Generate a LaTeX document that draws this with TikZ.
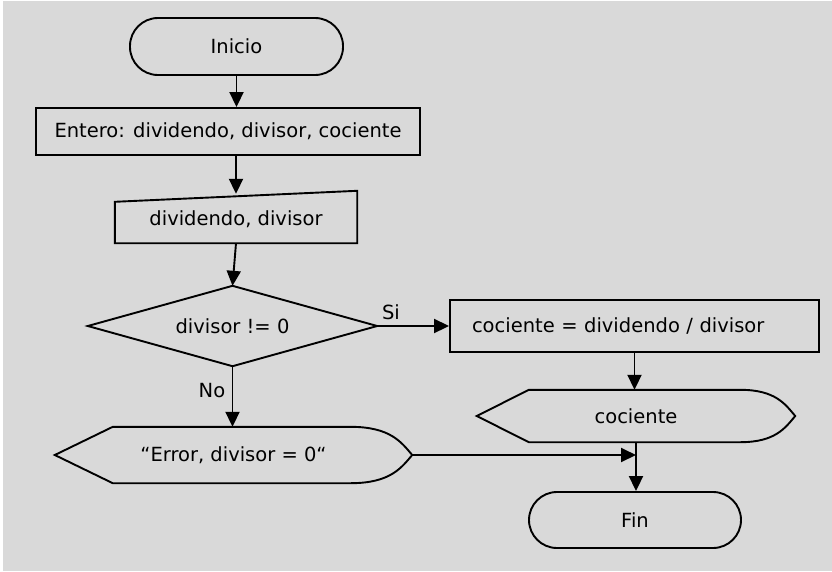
\documentclass[tikz,border=0pt]{standalone}
\usepackage{fontspec}
\setmainfont{DejaVu Sans}
\usetikzlibrary{arrows.meta,calc}
\definecolor{bggray}{HTML}{D9D9D9}
\begin{document}
\begin{tikzpicture}[x=1pt,y=-1pt,
  every node/.style={font=\fontsize{19.5}{23}\selectfont, inner sep=0pt},
  flow/.style={draw=black, line width=1.9pt},
  arrow/.style={flow, -{Triangle[length=15pt,width=14pt]}},
  term/.style={flow, rounded corners=28pt},
  proc/.style={flow}]

% page background
\fill[white] (0,0) rectangle (832,571);
\fill[bggray] (3,1) rectangle (832,571);
\useasboundingbox (0,0) rectangle (832,571);

% blocks
\node[term, minimum width=213pt, minimum height=57pt] (ini) at (236.5,46.5) {Inicio};
\node[proc, minimum width=384pt, minimum height=47pt] (decl) at (228,131.5) {Entero: dividendo, divisor, cociente};
\node[minimum width=242pt, minimum height=47pt] (inp) at (236,219.5) {dividendo, divisor};
\node[minimum width=289pt, minimum height=80pt] (dec) at (232.5,326) {divisor != 0};
\node[proc, minimum height=52pt, text width=325pt, inner xsep=22pt, align=left] (div) at (634.5,326) {cociente = dividendo / divisor};
\node[minimum width=318pt, minimum height=52pt] (out) at (636,416) {cociente};
\node[minimum width=357pt, minimum height=56pt] (err) at (233.5,455) {“Error, divisor = 0“};
\node[term, minimum width=212pt, minimum height=56pt] (fin) at (635,520) {Fin};

% manual input outline (slanted top)
\draw[flow] (inp.south west) -- (inp.south east)
  -- ($(inp.north east)+(0,-5)$) -- ($(inp.north west)+(0,6)$) -- cycle;

% decision outline
\draw[flow] (dec.west) -- (dec.north) -- (dec.east) -- (dec.south) -- cycle;

% display outlines
\draw[flow] (out.west) -- ($(out.north west)+(52,0)$) -- ($(out.north east)+(-55,0)$)
  .. controls ($(out.north east)+(-20,0)$) and ($(out.east)+(-10,-12)$) .. (out.east)
  .. controls ($(out.east)+(-10,12)$) and ($(out.south east)+(-20,0)$) .. ($(out.south east)+(-55,0)$)
  -- ($(out.south west)+(52,0)$) -- cycle;
\draw[flow] (err.west) -- ($(err.north west)+(58,0)$) -- ($(err.north east)+(-62,0)$)
  .. controls ($(err.north east)+(-22,0)$) and ($(err.east)+(-11,-13)$) .. (err.east)
  .. controls ($(err.east)+(-11,13)$) and ($(err.south east)+(-22,0)$) .. ($(err.south east)+(-62,0)$)
  -- ($(err.south west)+(58,0)$) -- cycle;

% branch labels
\node (si) at (391,312) {Si};
\node (no) at (212,391) {No};

% connectors
\coordinate (join) at (out.south |- err.east);
\draw[arrow] (ini.south) -- (ini.south |- decl.north);
\draw[arrow] (inp.north |- decl.south) -- ($(inp.north)+(0,-2)$);
\draw[arrow] (inp.south) -- (dec.north);
\draw[arrow] (dec.east) -- (div.west);
\draw[arrow] (div.south) -- (div.south |- out.north);
\draw[arrow] (dec.south) -- (dec.south |- err.north);
\draw[arrow] (err.east) -- (join);
\draw[arrow] (out.south) -- (out.south |- fin.north);
\end{tikzpicture}
\end{document}
